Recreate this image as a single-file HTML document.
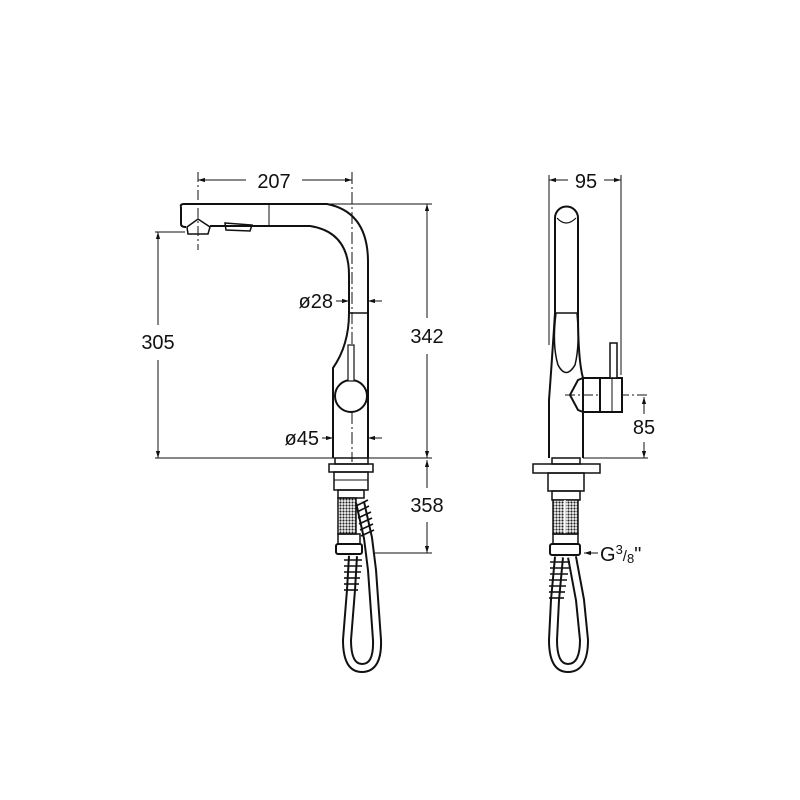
<!DOCTYPE html>
<html><head><style>
html,body{margin:0;padding:0;background:#fff;width:800px;height:800px;overflow:hidden}
text{font-family:"Liberation Sans",sans-serif;fill:#111}
</style></head><body>
<svg width="800" height="800" viewBox="0 0 800 800" xmlns="http://www.w3.org/2000/svg">
<defs>
<marker id="ar" viewBox="0 0 10 10" refX="10" refY="5" markerWidth="7" markerHeight="7" orient="auto-start-reverse"><path d="M0,2 L10,5 L0,8z" fill="#111"/></marker>
<pattern id="mesh" width="3" height="3" patternUnits="userSpaceOnUse"><rect width="3" height="3" fill="#fff"/><circle cx="1.5" cy="1.5" r="1.1" fill="#222"/></pattern>
</defs>
<g stroke="#111" fill="none" stroke-width="1">
<line x1="198" y1="180" x2="246" y2="180" marker-start="url(#ar)"/>
<line x1="302" y1="180" x2="352" y2="180" marker-end="url(#ar)"/>
<line x1="198" y1="172" x2="198" y2="250" stroke-dasharray="10,3,2,3"/>
<line x1="352" y1="172" x2="352" y2="462" stroke-dasharray="12,3,2,3"/>
<line x1="327" y1="204" x2="432" y2="204"/>
<line x1="427" y1="204" x2="427" y2="318" marker-start="url(#ar)"/>
<line x1="427" y1="354" x2="427" y2="458" marker-end="url(#ar)"/>
<line x1="155" y1="232" x2="185" y2="232"/>
<line x1="158" y1="232" x2="158" y2="325" marker-start="url(#ar)"/>
<line x1="158" y1="360" x2="158" y2="458" marker-end="url(#ar)"/>
<line x1="155" y1="458" x2="432" y2="458"/>
<line x1="427" y1="460" x2="427" y2="488" marker-start="url(#ar)"/>
<line x1="427" y1="522" x2="427" y2="553" marker-end="url(#ar)"/>
<line x1="375" y1="553" x2="432" y2="553"/>
<line x1="336" y1="301" x2="349" y2="301" marker-end="url(#ar)"/>
<line x1="382" y1="301" x2="368" y2="301" marker-end="url(#ar)"/>
<line x1="322" y1="438" x2="333" y2="438" marker-end="url(#ar)"/>
<line x1="382" y1="438" x2="368" y2="438" marker-end="url(#ar)"/>
<path d="M184,204 L327,204 Q368,212 368,262 L368,458" stroke-width="2"/>
<path d="M181,207 Q180,204 184,204 M181,207 L181,224 Q181,227 186,227" stroke-width="2"/>
<path d="M210,226 L310,226 Q349,232 349,275 L349,313 Q349,345 333,368 L333,458" stroke-width="2"/>
<line x1="269" y1="204" x2="269" y2="226"/>
<line x1="349" y1="313" x2="368" y2="313" stroke-width="1.5"/>
<path d="M187,227 L198,219 L210,227 L208,234 L188,234 Z" stroke-width="1.5"/>
<path d="M225,223 L252,225 L250,231 L226,230 Z" stroke-width="1.5"/>
<circle cx="351" cy="396" r="16" stroke-width="2" fill="#fff"/>
<rect x="348" y="345" width="6" height="36" stroke-width="1.2" fill="#fff"/>
<rect x="335" y="458" width="33" height="6" stroke-width="1.5"/>
<rect x="329" y="464" width="44" height="8" stroke-width="1.5"/>
<rect x="334" y="472" width="34" height="18" stroke-width="1.5"/>
<line x1="334" y1="480" x2="368" y2="480"/>
<rect x="338" y="490" width="26" height="8" stroke-width="1.5"/>
<rect x="338" y="498" width="18" height="36" fill="url(#mesh)" stroke-width="1.5"/>
<rect x="338" y="534" width="22" height="10" stroke-width="1.5"/>
<rect x="336" y="544" width="26" height="10" rx="2" stroke-width="2"/>
<path d="M353,556 L351,590 L347,640 Q347,668 362,668 Q378,668 377,640 L372,570 L368,538 L360,502" stroke="#111" stroke-width="10"/>
<path d="M353,556 L351,590 L347,640 Q347,668 362,668 Q378,668 377,640 L372,570 L368,538 L360,502" stroke="#fff" stroke-width="6"/>
<g stroke-width="1.6">
<line x1="344" y1="560" x2="362" y2="560"/><line x1="344" y1="566" x2="362" y2="566"/><line x1="344" y1="572" x2="361" y2="572"/><line x1="344" y1="578" x2="360" y2="578"/><line x1="344" y1="584" x2="359" y2="584"/><line x1="344" y1="590" x2="358" y2="590"/>
<line x1="356" y1="506" x2="368" y2="500"/><line x1="357" y1="512" x2="369" y2="506"/><line x1="358" y1="518" x2="371" y2="512"/><line x1="359" y1="524" x2="372" y2="518"/><line x1="360" y1="530" x2="373" y2="524"/><line x1="361" y1="536" x2="374" y2="530"/>
</g>
<line x1="549" y1="180" x2="568" y2="180" marker-start="url(#ar)"/>
<line x1="604" y1="180" x2="621" y2="180" marker-end="url(#ar)"/>
<line x1="549" y1="175" x2="549" y2="345"/>
<line x1="621" y1="175" x2="621" y2="375"/>
<line x1="565" y1="395" x2="648" y2="395" stroke-dasharray="10,3,2,3"/>
<line x1="644" y1="397" x2="644" y2="414" marker-start="url(#ar)"/>
<line x1="644" y1="442" x2="644" y2="458" marker-end="url(#ar)"/>
<line x1="583" y1="458" x2="648" y2="458"/>
<line x1="598" y1="553" x2="584" y2="553" marker-end="url(#ar)"/>
<path d="M555,218 A11.5,11.5 0 1 1 578,218 L578,313 Q578,360 583,378 L583,458 M555,218 L555,313 Q552,360 549,400 L549,458" stroke-width="2"/>
<path d="M557,218 Q566,228 576,218" stroke-width="1.2"/>
<path d="M556,313 L577,313 Q580,345 575,365 Q566,380 558,365 Q552,345 556,313 Z" stroke-width="1.5"/>
<path d="M583,378 L578,380 L570,395 L578,410 L583,412 M583,378 L600,378 L600,412 L583,412" stroke-width="2"/>
<rect x="600" y="378" width="22" height="34" stroke-width="2" fill="#fff"/>
<line x1="612" y1="378" x2="612" y2="412"/>
<rect x="610" y="343" width="7" height="35" stroke-width="1.5" fill="#fff"/>
<rect x="552" y="458" width="28" height="6" stroke-width="1.5"/>
<rect x="533" y="464" width="67" height="9" stroke-width="1.5"/>
<rect x="548" y="473" width="36" height="18" stroke-width="1.5"/>
<rect x="552" y="491" width="28" height="9" stroke-width="1.5"/>
<rect x="553" y="500" width="25" height="34" fill="url(#mesh)" stroke-width="1.5"/>
<line x1="565" y1="500" x2="565" y2="534" stroke="#fff" stroke-width="1.5"/>
<rect x="553" y="534" width="25" height="10" stroke-width="1.5"/>
<rect x="550" y="544" width="30" height="11" rx="2" stroke-width="2"/>
<path d="M559,557 L555,600 L553,640 Q553,668 568,668 Q584,668 584,640 L580,600 L572,557" stroke="#111" stroke-width="10"/>
<path d="M559,557 L555,600 L553,640 Q553,668 568,668 Q584,668 584,640 L580,600 L572,557" stroke="#fff" stroke-width="6"/>
<g stroke-width="1.6">
<line x1="550" y1="562" x2="570" y2="562"/><line x1="550" y1="568" x2="569" y2="568"/><line x1="550" y1="574" x2="568" y2="574"/><line x1="549" y1="580" x2="567" y2="580"/><line x1="549" y1="586" x2="566" y2="586"/><line x1="549" y1="592" x2="565" y2="592"/><line x1="549" y1="598" x2="564" y2="598"/>
</g>
</g>
<g font-size="20">
<text x="274" y="188" text-anchor="middle">207</text>
<text x="586" y="188" text-anchor="middle">95</text>
<text x="427" y="343" text-anchor="middle">342</text>
<text x="158" y="349" text-anchor="middle">305</text>
<text x="427" y="512" text-anchor="middle">358</text>
<text x="644" y="434" text-anchor="middle">85</text>
<text x="333" y="308" text-anchor="end">ø28</text>
<text x="319" y="445" text-anchor="end">ø45</text>
<text x="600" y="561">G<tspan font-size="13" dy="-7">3</tspan><tspan font-size="15" dy="7">/</tspan><tspan font-size="13" dy="2">8</tspan><tspan dy="-2">"</tspan></text>
</g>
</svg>
</body></html>
